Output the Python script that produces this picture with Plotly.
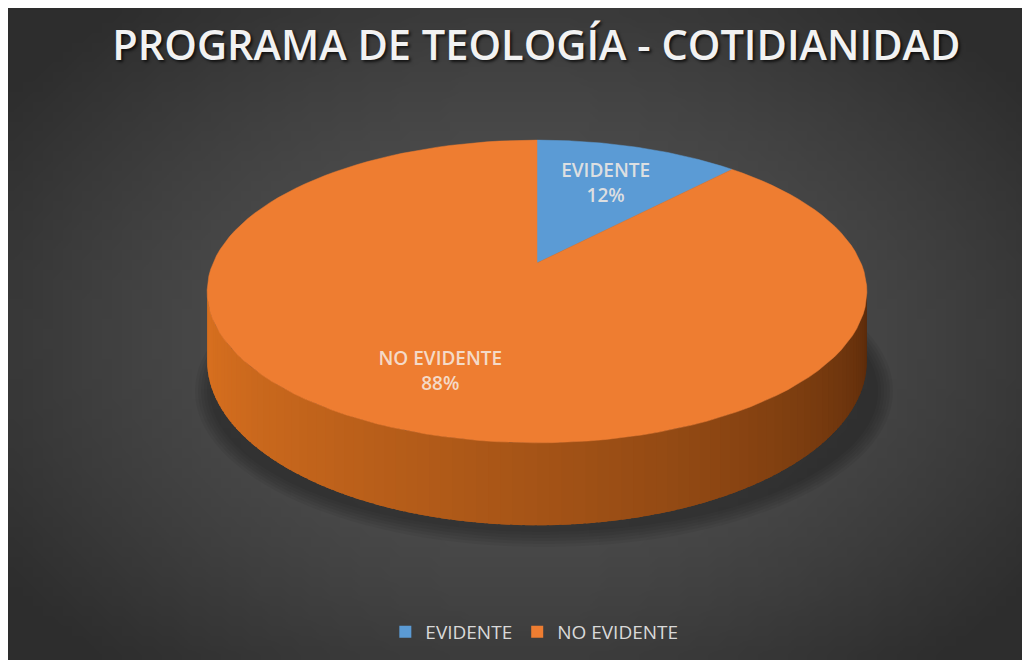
import base64
import math
import struct
import zlib

import plotly.graph_objects as pgo

# chart data
title_text = 'PROGRAMA DE TEOLOGÍA - COTIDIANIDAD'
categories = ['EVIDENTE', 'NO EVIDENTE']
values = [12, 88]
slice_colors = ['#5b9bd5', '#ee7d31']

# page has an 8px body margin; axes use page pixel units
OX, OY = 8, 8
W, H = 1022, 652

# pie geometry (page pixels)
CX, CY = 537, 263      # projected centre of the top face
A, B = 324, 146        # horizontal / vertical radius
K = 0.188              # perspective factor
D0 = 67                # depth of the pie wall
label_radius = [0.64, 0.71]


def proj(u, v, f=1.0, down=0.0):
    w = 1 + K * v * f
    x = CX + A * u * f / w
    y = CY - B * v * f / w + down / w
    return x, y


def rim(phi0, phi1, n, down=0.0):
    xs, ys = [], []
    for i in range(n + 1):
        phi = math.radians(phi0 + (phi1 - phi0) * i / n)
        x, y = proj(math.sin(phi), math.cos(phi), down=down)
        xs.append(x)
        ys.append(y)
    return xs, ys


def mix(c1, c2, t):
    a = [int(c1[i:i + 2], 16) for i in (1, 3, 5)]
    b = [int(c2[i:i + 2], 16) for i in (1, 3, 5)]
    return '#%02x%02x%02x' % tuple(round(a[i] + (b[i] - a[i]) * t) for i in range(3))


def radial_png(w, h):
    # small grey radial gradient, stretched over the whole background
    rows = b''
    for j in range(h):
        row = b'\x00'
        for i in range(w):
            dx = (i / (w - 1) * W + OX - 520) / 640
            dy = (j / (h - 1) * H + OY - 340) / 440
            d = min(1.0, dx * dx + dy * dy)
            g = round(0x2d + (0x52 - 0x2d) * (1 - d) ** 1.2)
            row += bytes([g, g, g])
        rows += row

    def chunk(tag, data):
        return struct.pack('>I', len(data)) + tag + data + struct.pack('>I', zlib.crc32(tag + data) & 0xffffffff)

    png = b'\x89PNG\r\n\x1a\n'
    png += chunk(b'IHDR', struct.pack('>IIBBBBB', w, h, 8, 2, 0, 0, 0))
    png += chunk(b'IDAT', zlib.compress(rows, 9))
    png += chunk(b'IEND', b'')
    return 'data:image/png;base64,' + base64.b64encode(png).decode()


fig = pgo.Figure()

# wall of the pie (front half), shaded left to right
phi_left = 270 - math.degrees(math.asin(K))
phi_right = 90 + math.degrees(math.asin(K))
n_strips = 90
step = (phi_left - phi_right) / n_strips
for i in range(n_strips):
    p0 = phi_left - step * i
    p1 = max(phi_right, p0 - step * 1.8)   # overlap the next strip to hide seams
    tx, ty = rim(p0, p1, 2)
    bx, by = rim(p1, p0, 2, down=D0)
    t = i / (n_strips - 1)
    col = mix('#d8701f', '#5a2a0a', t ** 1.3)
    fig.add_trace(pgo.Scatter(
        x=tx + bx, y=ty + by, fill='toself', mode='lines',
        fillcolor=col, line={'width': 0},
        hoverinfo='skip', showlegend=False,
    ))

# top face slices
start = 0.0
total = sum(values)
for name, val, col, lr in zip(categories, values, slice_colors, label_radius):
    span = 360.0 * val / total
    xs, ys = rim(start, start + span, 120)
    fig.add_trace(pgo.Scatter(
        x=[CX] + xs + [CX], y=[CY] + ys + [CY], fill='toself', mode='lines',
        fillcolor=col, line={'color': col, 'width': 0.5},
        name=name, hoverinfo='name', showlegend=False,
    ))
    mid = math.radians(start + span / 2)
    lx, ly = proj(math.sin(mid), math.cos(mid), f=lr)
    fig.add_trace(pgo.Scatter(
        x=[lx], y=[ly], mode='text',
        text=[f'{name}<br>{val}%'],
        textfont={'family': 'Open Sans', 'size': 19, 'weight': 600,
                  'color': 'rgba(246,236,228,0.85)'},
        hoverinfo='skip', showlegend=False,
    ))
    start += span

# legend entries
for name, col in zip(categories, slice_colors):
    fig.add_trace(pgo.Scatter(
        x=[None], y=[None], mode='markers', name=name,
        marker={'symbol': 'square', 'size': 12, 'color': col},
    ))

# soft shadow under the pie
shapes = []
for i in range(6):
    g = i * 3
    shapes.append({
        'type': 'circle', 'xref': 'x', 'yref': 'y',
        'x0': 210 - g, 'x1': 878 + g,
        'y0': 250 - g, 'y1': 532 + g,
        'fillcolor': 'rgba(0,0,0,0.05)', 'line': {'width': 0}, 'layer': 'below',
    })

fig.update_layout(
    width=W, height=H,
    margin={'l': 0, 'r': 0, 't': 0, 'b': 0},
    paper_bgcolor='#323232', plot_bgcolor='rgba(0,0,0,0)',
    shapes=shapes,
    images=[{
        'source': radial_png(103, 66), 'xref': 'paper', 'yref': 'paper',
        'x': 0, 'y': 1, 'sizex': 1, 'sizey': 1, 'xanchor': 'left', 'yanchor': 'top',
        'sizing': 'stretch', 'layer': 'below',
    }],
    title={
        'text': title_text, 'x': 0.517, 'xanchor': 'center', 'y': 0.943, 'yanchor': 'middle',
        'font': {'family': 'Open Sans', 'size': 41.5, 'weight': 600, 'color': '#f2f2f2',
                 'shadow': '2px 2px 3px rgba(0,0,0,0.7)'},
    },
    showlegend=True,
    legend={
        'orientation': 'h', 'x': 0.515, 'xanchor': 'center', 'y': 0.043, 'yanchor': 'middle',
        'font': {'family': 'Open Sans', 'size': 19, 'color': '#d9d9d9'},
        'bgcolor': 'rgba(0,0,0,0)', 'itemwidth': 30, 'itemclick': False,
    },
    xaxis={'range': [OX, OX + W], 'visible': False, 'fixedrange': True},
    yaxis={'range': [OY + H, OY], 'visible': False, 'fixedrange': True},
)

fig.write_html('out.html')
